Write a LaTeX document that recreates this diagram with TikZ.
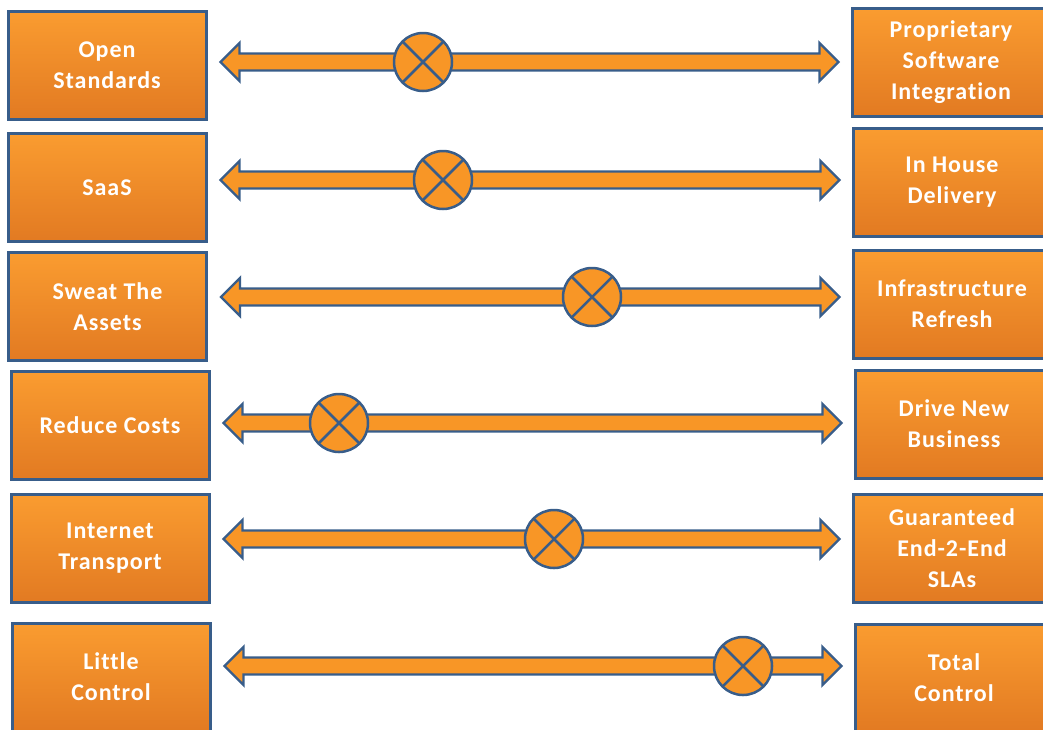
\documentclass[tikz,border=0pt]{standalone}
\usepackage{fontspec}
\setmainfont{Carlito}[Ligatures=NoCommon, LetterSpace=4]
\usetikzlibrary{calc, backgrounds}
\definecolor{boxorange}{RGB}{250,156,48}
\definecolor{boxorangedark}{RGB}{226,122,34}
\definecolor{edgeblue}{RGB}{56,93,138}
\definecolor{arroworange}{RGB}{248,150,38}

% double block arrow between two boxes, at the height of the marker
\newcommand{\sliderarrow}[3]{%
  \draw[barrow] let \p1=($(#1.east |- #3)+(13,0)$), \p2=($(#2.west |- #3)+(-12,0)$) in
    (\x1,\y1) -- (\x1+19pt,\y1+19pt) -- (\x1+19pt,\y1+8.5pt) -- (\x2-19pt,\y1+8.5pt)
    -- (\x2-19pt,\y1+19pt) -- (\x2,\y1) -- (\x2-19pt,\y1-19pt) -- (\x2-19pt,\y1-8.5pt)
    -- (\x1+19pt,\y1-8.5pt) -- (\x1+19pt,\y1-19pt) -- cycle;}

\begin{document}
\begin{tikzpicture}[
    x=1pt, y=-1pt,
    lbox/.style={rectangle, minimum width=198pt, minimum height=108pt, draw=edgeblue, line width=3pt, top color=boxorange, bottom color=boxorangedark, text=white, font=\fontsize{24}{31}\selectfont\bfseries, align=center, inner sep=2pt},
    rbox/.style={lbox},
    marker/.style={circle, minimum size=58pt, inner sep=0pt, fill=arroworange, draw=edgeblue, line width=2.5pt,
      path picture={\draw[edgeblue, line width=2.5pt] (path picture bounding box.north west) -- (path picture bounding box.south east)
        (path picture bounding box.north east) -- (path picture bounding box.south west);}},
    barrow/.style={fill=arroworange, draw=edgeblue, line width=2.4pt, line join=miter}
]
\useasboundingbox (0,0) rectangle (1043,729);
\clip (0,0) rectangle (1043,729);

% ── Left column ──
\node[lbox] (open) at (107,65) {Open\\Standards};
\node[lbox] (saas) at (107,187.5) {SaaS};
\node[lbox] (sweat) at (107.5,306.5) {Sweat The\\Assets};
\node[lbox] (reduce) at (110,425.5) {Reduce Costs};
\node[lbox] (internet) at (110,548.5) {Internet\\Transport};
\node[lbox] (little) at (111,677) {Little\\Control};

% ── Right column ──
\node[rbox] (prop) at (951,62.5) {Proprietary\\Software\\Integration};
\node[rbox] (inhouse) at (952,182) {In House\\Delivery};
\node[rbox] (refresh) at (952,304) {Infrastructure\\Refresh};
\node[rbox] (drive) at (954,424) {Drive New\\Business};
\node[rbox] (guar) at (952,548.5) {Guaranteed\\End-2-End\\SLAs};
\node[rbox] (total) at (954,678) {Total\\Control};

% ── Markers ──
\node[marker] (m1) at (423,62) {};
\node[marker] (m2) at (443,180) {};
\node[marker] (m3) at (592,297) {};
\node[marker] (m4) at (339,423) {};
\node[marker] (m5) at (554,539) {};
\node[marker] (m6) at (743,666) {};

% ── Arrows ──
\begin{scope}[on background layer]
\sliderarrow{open}{prop}{m1}
\sliderarrow{saas}{inhouse}{m2}
\sliderarrow{sweat}{refresh}{m3}
\sliderarrow{reduce}{drive}{m4}
\sliderarrow{internet}{guar}{m5}
\sliderarrow{little}{total}{m6}
\end{scope}

\end{tikzpicture}
\end{document}
